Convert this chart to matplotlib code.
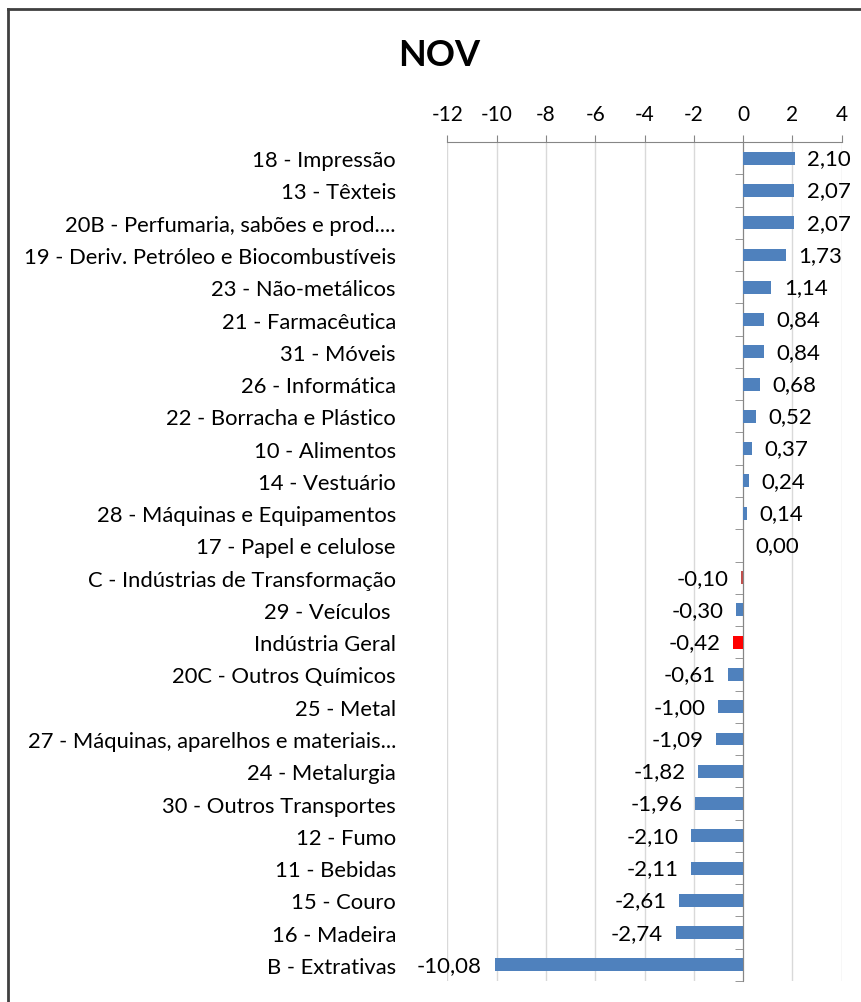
import numpy as np
import matplotlib.pyplot as plt
from matplotlib.ticker import FixedLocator

plt.rcParams['font.family'] = ['Lato', 'DejaVu Sans']

CATEGORIES = [
    '18 - Impressão',
    '13 - Têxteis',
    '20B - Perfumaria, sabões e prod....',
    '19 - Deriv. Petróleo e Biocombustíveis',
    '23 - Não-metálicos',
    '21 - Farmacêutica',
    '31 - Móveis',
    '26 - Informática',
    '22 - Borracha e Plástico',
    '10 - Alimentos',
    '14 - Vestuário',
    '28 - Máquinas e Equipamentos',
    '17 - Papel e celulose',
    'C - Indústrias de Transformação',
    '29 - Veículos ',
    'Indústria Geral',
    '20C - Outros Químicos',
    '25 - Metal',
    '27 - Máquinas, aparelhos e materiais...',
    '24 - Metalurgia',
    '30 - Outros Transportes',
    '12 - Fumo',
    '11 - Bebidas',
    '15 - Couro',
    '16 - Madeira',
    'B - Extrativas',
]
VALUES = [2.10, 2.07, 2.07, 1.73, 1.14, 0.84, 0.84, 0.68, 0.52, 0.37, 0.24,
          0.14, 0.00, -0.10, -0.30, -0.42, -0.61, -1.00, -1.09, -1.82, -1.96,
          -2.10, -2.11, -2.61, -2.74, -10.08]
X_TICKS = [-12, -10, -8, -6, -4, -2, 0, 2, 4]

BLUE = '#4F81BD'
HIGHLIGHT = {'C - Indústrias de Transformação': '#C0504D',
             'Indústria Geral': '#FF0000'}
colors = [HIGHLIGHT.get(c, BLUE) for c in CATEGORIES]

fig = plt.figure(figsize=(8.61, 10.03), dpi=100)
ax = fig.add_axes([0.5195, 0.0209, 0.4581, 0.8365])

y = np.arange(len(CATEGORIES))
ax.barh(y, VALUES, height=0.4, color=colors, zorder=3)

ax.set_xlim(-12, 4)
ax.set_ylim(len(CATEGORIES) - 0.5, -0.5)
ax.set_xticks(X_TICKS)
ax.set_xticklabels([str(t) for t in X_TICKS])
ax.xaxis.tick_top()
ax.tick_params(axis='x', length=5, color='#868686', labelsize=15, pad=8)
ax.grid(axis='x', color='#D9D9D9', linewidth=1, zorder=0)

for s in ['right', 'bottom']:
    ax.spines[s].set_visible(False)
ax.spines['top'].set_color('#868686')
ax.spines['left'].set_color('#868686')
ax.spines['left'].set_position(('data', 0))

# category labels on major ticks, tick marks between categories
ax.yaxis.set_major_locator(FixedLocator(y))
ax.set_yticklabels(CATEGORIES)
ax.yaxis.set_minor_locator(FixedLocator(np.arange(len(CATEGORIES) + 1) - 0.5))
ax.tick_params(axis='y', which='major', length=0, labelsize=15.8, pad=250)
ax.tick_params(axis='y', which='minor', length=6, color='#868686')

for yi, v in zip(y, VALUES):
    txt = f'{v:.2f}'.replace('.', ',')
    if v >= 0:
        ax.annotate(txt, (v, yi), xytext=(9, 0), textcoords='offset points',
                    ha='left', va='center', fontsize=16)
    else:
        ax.annotate(txt, (v, yi), xytext=(-9, 0), textcoords='offset points',
                    ha='right', va='center', fontsize=16)

fig.text(0.51, 0.945, 'NOV', ha='center', va='center', fontsize=26,
         fontweight='bold')

# chart border (left and top edges visible in the crop)
fig.add_artist(plt.Line2D([0.0093, 0.0093], [0, 0.99], color='#404040',
                          linewidth=2, transform=fig.transFigure))
fig.add_artist(plt.Line2D([0.0093, 1], [0.99, 0.99], color='#404040',
                          linewidth=2, transform=fig.transFigure))

fig.savefig('out.png', dpi=100)
